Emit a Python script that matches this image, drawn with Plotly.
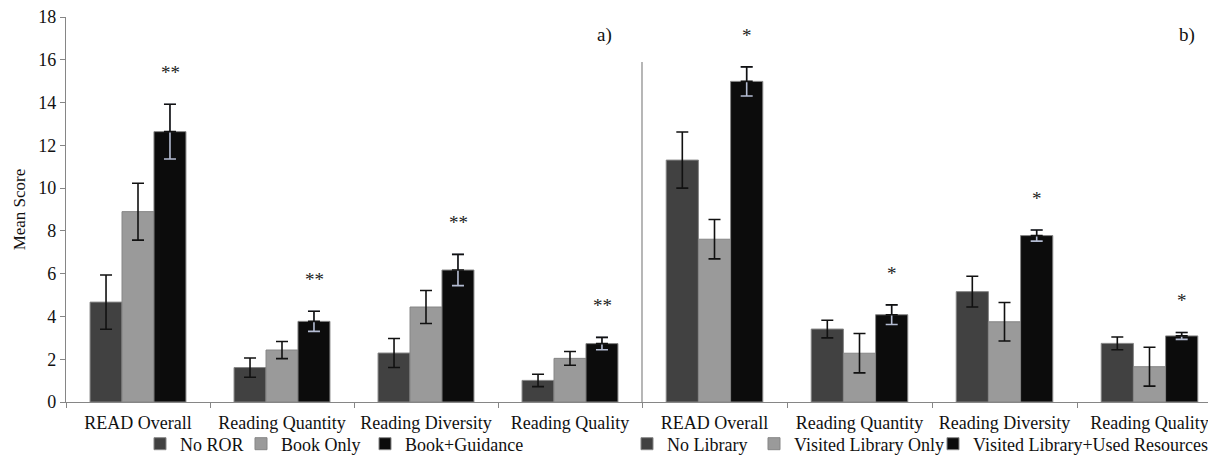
import plotly.graph_objects as go

categories = ["READ Overall", "Reading Quantity", "Reading Diversity", "Reading Quality"]

# Panel a)
no_ror = [4.67, 1.61, 2.29, 1.01]
no_ror_err = [1.27, 0.45, 0.68, 0.29]
book_only = [8.90, 2.43, 4.44, 2.04]
book_only_err = [1.33, 0.40, 0.77, 0.32]
book_guidance = [12.64, 3.77, 6.17, 2.73]
book_guidance_err = [1.28, 0.47, 0.73, 0.29]
stars_a = ["**", "**", "**", "**"]

# Panel b)
no_library = [11.31, 3.41, 5.16, 2.74]
no_library_err = [1.31, 0.41, 0.72, 0.30]
visited_only = [7.61, 2.28, 3.75, 1.65]
visited_only_err = [0.92, 0.92, 0.90, 0.91]
used_resources = [14.99, 4.08, 7.78, 3.09]
used_resources_err = [0.68, 0.46, 0.26, 0.16]
stars_b = ["*", "*", "*", "*"]

FONT = "'Liberation Serif', 'Times New Roman', 'DejaVu Serif', serif"
DARK, LIGHT, BLACK = "#414141", "#9a9a9a", "#0c0c0c"
W = 0.222
OFFS = [-1.5 * W, -0.5 * W, 0.5 * W]

# page body has an 8px margin: size the figure so it fills the window
OFF = 8
FW, FH = 1216 - OFF, 455 - OFF
L, R, T, B = 66 - OFF, 0, 17 - OFF, 53
PW, PH = FW - L - R, FH - T - B

fig = go.Figure()

def add_panel(series, xa, legend):
    for i, (name, vals, errs, color, lw) in enumerate(series):
        is_black = (i == 2)
        fig.add_trace(go.Bar(
            x=categories, y=vals, name=name, xaxis=xa, yaxis="y",
            marker=dict(color=color, line=dict(color="#858585", width=1)),
            width=W, offset=OFFS[i], legend=legend, legendwidth=lw,
            error_y=dict(type="data", array=errs, visible=True,
                         color="#b4bcd2" if is_black else "#111111",
                         thickness=1.6, width=6),
        ))
        if is_black:
            fig.add_trace(go.Bar(
                x=categories, y=vals, xaxis=xa, yaxis="y", showlegend=False,
                marker=dict(color="rgba(0,0,0,0)", line=dict(width=0)),
                width=W, offset=OFFS[i], hoverinfo="skip", legend=legend,
                error_y=dict(type="data", array=errs, arrayminus=[0] * len(errs),
                             visible=True, color="#111111", thickness=1.6, width=6),
            ))

add_panel([("No ROR", no_ror, no_ror_err, DARK, 56),
           ("Book Only", book_only, book_only_err, LIGHT, 79),
           ("Book+Guidance", book_guidance, book_guidance_err, BLACK, None)], "x", "legend")
add_panel([("No Library", no_library, no_library_err, DARK, 82),
           ("Visited Library Only", visited_only, visited_only_err, LIGHT, 134),
           ("Visited Library+Used Resources", used_resources, used_resources_err, BLACK, None)], "x2", "legend2")

# significance stars
for xa, vals, errs, stars in [("x", book_guidance, book_guidance_err, stars_a),
                              ("x2", used_resources, used_resources_err, stars_b)]:
    for c, v, e, s in zip(categories, vals, errs, stars):
        fig.add_annotation(x=c, y=v + e, xref=xa, yref="y", text=s, showarrow=False,
                           xshift=32, yanchor="bottom", yshift=19,
                           font=dict(family=FONT, size=19, color="#222"))

split = 576 / PW
right_px = 1216 - 642

axis_common = dict(type="category", tickson="boundaries", ticks="outside", ticklen=5,
                   tickcolor="#868686", showline=True, linecolor="#868686", linewidth=1.2,
                   showgrid=False, tickangle=0, ticklabelstandoff=4,
                   tickfont=dict(family=FONT, size=18, color="#111"))

def px_x(p):
    return (p - OFF - L) / PW

def px_y(p):
    return (FH - B - (p - OFF)) / PH

legend_common = dict(orientation="h", xref="paper", yref="paper", xanchor="left",
                     yanchor="middle", font=dict(family=FONT, size=18, color="#111"),
                     itemwidth=30, tracegroupgap=0, bgcolor="rgba(0,0,0,0)", borderwidth=0)

fig.update_layout(
    width=FW, height=FH,
    margin=dict(l=L, r=R, t=T, b=B, autoexpand=False),
    paper_bgcolor="white", plot_bgcolor="white",
    barmode="overlay",
    font=dict(family=FONT, color="#111"),
    xaxis=dict(domain=[0, split], range=[-0.5, 3.5], **axis_common),
    xaxis2=dict(domain=[split, 1], range=[-0.5, -0.5 + right_px / 145], anchor="y", **axis_common),
    yaxis=dict(range=[0, 18], dtick=2, ticks="outside", ticklen=5, tickcolor="#868686",
               showline=True, linecolor="#868686", linewidth=1.2, showgrid=False,
               zeroline=False, ticklabeloverflow="allow",
               tickfont=dict(family=FONT, size=18, color="#111"),
               title=dict(text="Mean Score", font=dict(family=FONT, size=17, color="#111"), standoff=8)),
    legend=dict(x=px_x(140), y=px_y(444), **legend_common),
    legend2=dict(x=px_x(627), y=px_y(444), **legend_common),
    showlegend=True,
)

# panel divider line
fig.add_shape(type="line", xref="paper", yref="y", x0=split, x1=split, y0=0, y1=15.9,
              line=dict(color="#868686", width=1.2))

fig.add_annotation(x=px_x(604), y=px_y(35), xref="paper", yref="paper", text="a)", showarrow=False,
                   xanchor="center", yanchor="middle",
                   font=dict(family=FONT, size=19, color="#111"))
fig.add_annotation(x=px_x(1187), y=px_y(35), xref="paper", yref="paper", text="b)", showarrow=False,
                   xanchor="center", yanchor="middle",
                   font=dict(family=FONT, size=19, color="#111"))

fig.write_html("out.html")
